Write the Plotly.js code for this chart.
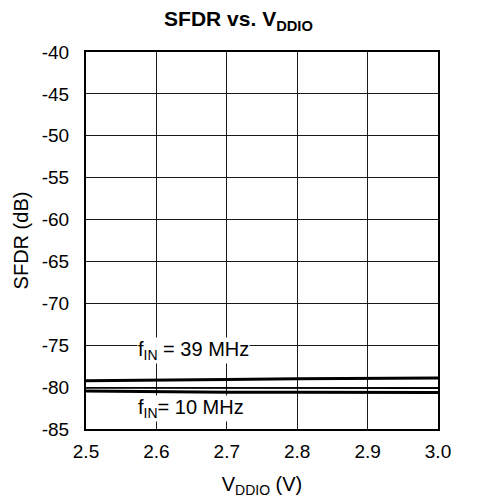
<!DOCTYPE html>
<html><head><meta charset="utf-8">
<script src="https://cdn.plot.ly/plotly-3.0.1.min.js"></script>
<style>html,body{margin:0;padding:0;background:#fff}#c{width:477px;height:501px}</style>
</head><body><div id="c"></div>
<script>
const vddio = [2.5, 2.6, 2.7, 2.8, 2.9, 3.0];
const sfdr39 = [-79.25, -79.2, -79.1, -79.0, -78.95, -78.9];
const sfdrMid = [-80.1, -80.1, -80.1, -80.1, -80.1, -80.15];
const sfdr10 = [-80.45, -80.55, -80.6, -80.6, -80.6, -80.65];
const xTicks = [2.5, 2.6, 2.7, 2.8, 2.9, 3.0];
const xTickText = ['2.5','2.6','2.7','2.8','2.9','3.0'];
const yTicks = [-85,-80,-75,-70,-65,-60,-55,-50,-45,-40];
const yTickText = ['-85','-80','-75','-70','-65','-60','-55','-50','-45','-40'];

const fam = 'Liberation Sans, Arial, sans-serif';
const f = s => ({family: fam, size: s, color: '#000'});
const traces = [
  {x: vddio, y: sfdr39, mode: 'lines', line: {color: '#000', width: 3}, hoverinfo: 'skip'},
  {x: vddio, y: sfdrMid, mode: 'lines', line: {color: '#000', width: 1.5}, hoverinfo: 'skip'},
  {x: vddio, y: sfdr10, mode: 'lines', line: {color: '#000', width: 3}, hoverinfo: 'skip'}
];
const layout = {
  width: 477, height: 501,
  margin: {l: 86, r: 39, t: 52, b: 72},
  paper_bgcolor: '#fff', plot_bgcolor: '#fff',
  showlegend: false,
  font: f(19),
  title: {text: '<b>SFDR vs. V<sub>DDIO</sub></b>', x: 0.5, xanchor: 'center', y: 0.962, yanchor: 'middle', font: f(21)},
  xaxis: {
    range: [2.5, 3.0], tickvals: xTicks, ticktext: xTickText,
    showgrid: true, gridcolor: '#1a1a1a', gridwidth: 1,
    showline: true, linecolor: '#000', linewidth: 2, mirror: true,
    ticks: '', zeroline: false, tickfont: f(19), ticklabelstandoff: 4,
    title: {text: 'V<sub>DDIO</sub> (V)', standoff: 16, font: f(20)}
  },
  yaxis: {
    range: [-85, -40], tickvals: yTicks, ticktext: yTickText,
    showgrid: true, gridcolor: '#1a1a1a', gridwidth: 1,
    showline: true, linecolor: '#000', linewidth: 2, mirror: true,
    ticks: '', zeroline: false, tickfont: f(19), ticklabelstandoff: 11,
    title: {text: 'SFDR (dB)', standoff: 8, font: f(20)}
  },
  annotations: [
    {x: 2.572, y: -75.57, xref: 'x', yref: 'y', xanchor: 'left', yanchor: 'middle', text: 'f<sub>IN</sub> = 39 MHz', showarrow: false, bgcolor: '#fff', font: f(20), borderpad: 0},
    {x: 2.572, y: -82.6, xref: 'x', yref: 'y', xanchor: 'left', yanchor: 'middle', text: 'f<sub>IN</sub>= 10 MHz', showarrow: false, bgcolor: '#fff', font: f(20), borderpad: 0}
  ]
};
Plotly.newPlot('c', traces, layout, {displayModeBar: false, staticPlot: true});
</script></body></html>
